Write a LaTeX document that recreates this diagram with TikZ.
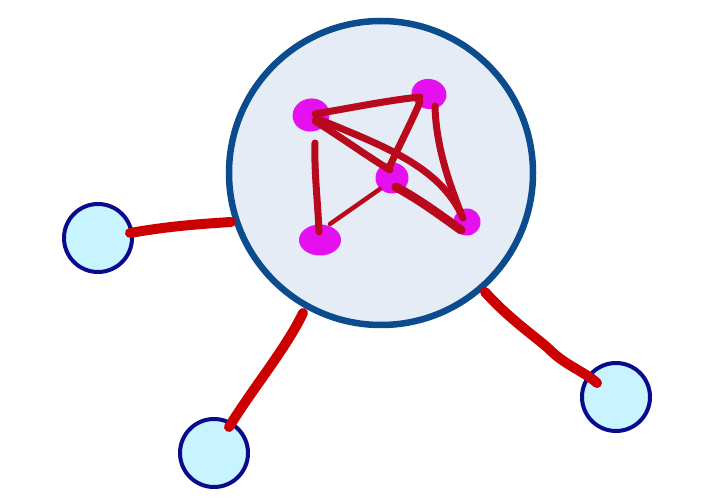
\documentclass[tikz,border=0pt]{standalone}
\usetikzlibrary{shapes.geometric}
\definecolor{bigfill}{HTML}{E6ECF5}
\definecolor{bigdraw}{HTML}{0B4C8E}
\definecolor{smallfill}{HTML}{C8F4FF}
\definecolor{smalldraw}{HTML}{0A0A8C}
\definecolor{linkred}{HTML}{CC0000}
\definecolor{edgered}{HTML}{B80A1C}
\definecolor{blob}{HTML}{E60FF0}
\tikzset{
  bigcirc/.style={circle, draw=bigdraw, fill=bigfill, line width=6.5pt, minimum size=304pt, inner sep=0pt},
  smallcirc/.style={circle, draw=smalldraw, fill=smallfill, line width=4pt, minimum size=68pt, inner sep=0pt},
  link/.style={draw=linkred, line width=10pt, line cap=round, line join=round},
  edge/.style={draw=edgered, line width=7pt, line cap=round},
  blobnode/.style={ellipse, fill=blob, inner sep=0pt},
}
\begin{document}
\begin{tikzpicture}[x=1pt,y=-1pt]
\useasboundingbox (0,0) rectangle (723,502);
\fill[white] (0,0) rectangle (723,502);
\node[bigcirc] (big) at (381,173) {};
\node[smallcirc] (sl) at (98,238) {};
\node[smallcirc] (sb) at (214,453) {};
\node[smallcirc] (sr) at (616,397) {};
% link endpoints
\coordinate (l1) at (130,233);
\coordinate (l2) at (231,222);
\coordinate (b1) at (303,313);
\coordinate (b2) at (229,427);
\coordinate (r1) at (485,292);
\coordinate (r2) at (597,383);
\draw[link] (l1) .. controls (170,226) and (200,224) .. (l2);
\draw[link] (b1) .. controls (285,350) and (255,385) .. (b2);
\draw[link] (r1) .. controls (510,320) and (540,340) .. (550,350) .. controls (565,365) and (585,372) .. (r2);
% blobs
\node[blobnode, minimum width=37pt, minimum height=33pt, rotate=10] (A) at (311,115) {};
\node[blobnode, minimum width=35pt, minimum height=30pt, rotate=-10] (B) at (429,94) {};
\node[blobnode, minimum width=33pt, minimum height=31pt] (C) at (392,178) {};
\node[blobnode, minimum width=42pt, minimum height=31pt] (D) at (320,240) {};
\node[blobnode, minimum width=27pt, minimum height=27pt] (E) at (467,222) {};
% edge endpoints
\coordinate (ab1) at (315,114);
\coordinate (ab2) at (420,97);
\coordinate (ac1) at (315,121);
\coordinate (ac2) at (390,170);
\coordinate (ae1) at (316,118);
\coordinate (ae2) at (463,218);
\coordinate (bc1) at (420,102);
\coordinate (bc2) at (389,168);
\coordinate (be1) at (435,106);
\coordinate (be2) at (462,216);
\coordinate (ad1) at (315,143);
\coordinate (ad2) at (319,232);
\coordinate (cd1) at (380,189);
\coordinate (cd2) at (330,224);
\coordinate (ce1) at (396,187);
\coordinate (ce2) at (461,230);
\draw[edge] (ab1) .. controls (350,108) and (390,100) .. (ab2);
\draw[edge] (ac1) .. controls (345,140) and (370,158) .. (ac2);
\draw[edge] (ae1) .. controls (380,145) and (440,165) .. (ae2);
\draw[edge] (bc1) .. controls (410,125) and (398,148) .. (bc2);
\draw[edge] (be1) .. controls (436,150) and (452,190) .. (be2);
\draw[edge] (ad1) .. controls (314,170) and (318,205) .. (ad2);
\draw[edge, line width=4.5pt] (cd1) -- (cd2);
\draw[edge, line width=9pt] (ce1) .. controls (420,200) and (440,215) .. (ce2);
\end{tikzpicture}
\end{document}
